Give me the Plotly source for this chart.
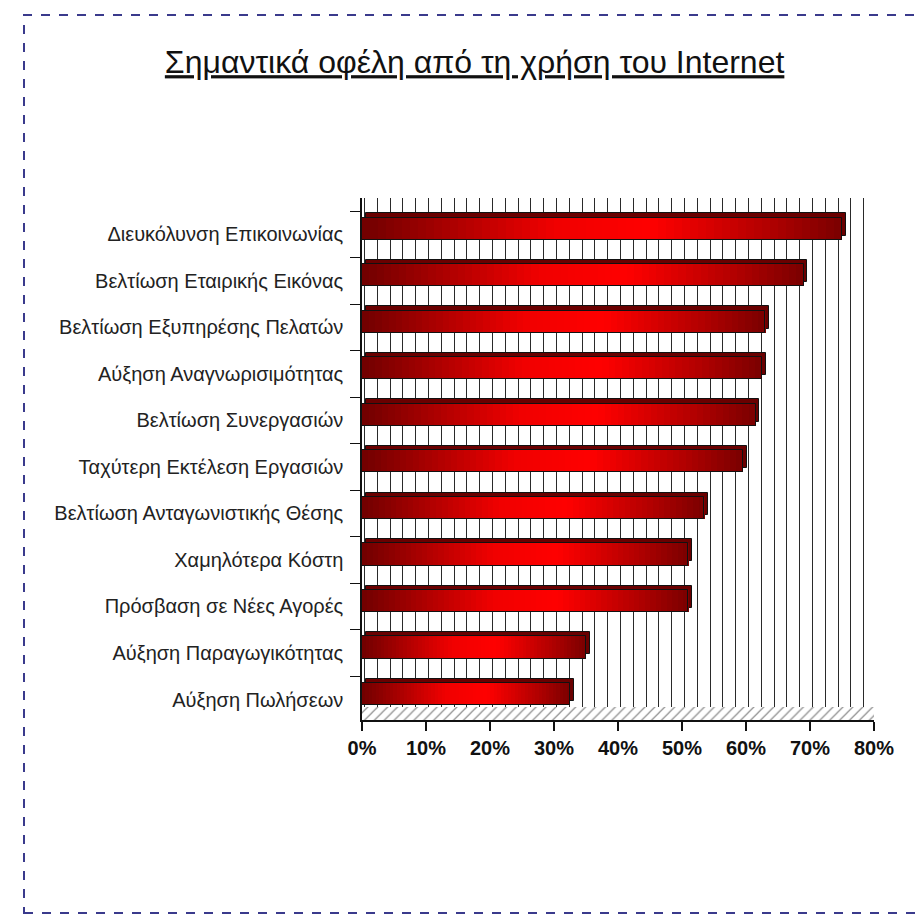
import plotly.graph_objects as go
from plotly.colors import sample_colorscale

# ---------------- data ----------------
categories = [
    "Διευκόλυνση Επικοινωνίας",
    "Βελτίωση Εταιρικής Εικόνας",
    "Βελτίωση Εξυπηρέσης Πελατών",
    "Αύξηση Αναγνωρισιμότητας",
    "Βελτίωση Συνεργασιών",
    "Ταχύτερη Εκτέλεση Εργασιών",
    "Βελτίωση Ανταγωνιστικής Θέσης",
    "Χαμηλότερα Κόστη",
    "Πρόσβαση σε Νέες Αγορές",
    "Αύξηση Παραγωγικότητας",
    "Αύξηση Πωλήσεων",
]
values = [75, 69, 63, 62.5, 61.5, 59.5, 53.5, 51, 51, 35, 32.5]
x_tickvals = [0, 10, 20, 30, 40, 50, 60, 70, 80]
x_ticktext = ["0%", "10%", "20%", "30%", "40%", "50%", "60%", "70%", "80%"]
title_text = "Σημαντικά οφέλη από τη χρήση του Internet"

# ---------------- layout helpers ----------------
n = len(categories)
ypos = [n - 1 - i for i in range(n)]          # first category at top
W = 918
L, R, T, B = 362, 44, 198, 198
Y_MIN, Y_MAX = -0.44, 10.78
depth_x = 0.6        # % shift for 3D depth
grid_shift = 0.4

bar_w = 0.48
front_off = 0.12 - bar_w / 2
back_off = front_off + 0.09

fig = go.Figure()

# back wall gridlines on a helper subplot (x/y), drawn beneath bar subplot
fig.add_trace(go.Scatter(x=[0], y=[0], xaxis="x", yaxis="y",
                         mode="markers", marker=dict(opacity=0),
                         hoverinfo="skip", showlegend=False))

BX, BY = "x2", "y2"

# floor hatch
fig.add_trace(go.Bar(
    y=[Y_MIN + 0.14], x=[x_tickvals[-1] + grid_shift], base=[0], orientation="h",
    width=[0.28], xaxis=BX, yaxis=BY,
    marker=dict(color="white", line=dict(width=0),
                pattern=dict(shape="/", fgcolor="#222", bgcolor="white",
                             size=7, solidity=0.18)),
    hoverinfo="skip", showlegend=False))

# back (top/end) face of bars
fig.add_trace(go.Bar(
    y=ypos, x=values, base=[depth_x] * n, orientation="h",
    width=[bar_w] * n, offset=back_off, xaxis=BX, yaxis=BY,
    marker=dict(color="#6a0000", line=dict(color="#111", width=1)),
    hoverinfo="skip", showlegend=False))

# solid underlay for front face
fig.add_trace(go.Bar(
    y=ypos, x=values, base=[0] * n, orientation="h",
    width=[bar_w] * n, offset=front_off, xaxis=BX, yaxis=BY,
    marker=dict(color="#d00000", line=dict(width=0)),
    hoverinfo="skip", showlegend=False))

# gradient segments on front face
N = 60
scale = [[0, "#700000"], [0.15, "#a00000"], [0.4, "#f00000"],
         [0.6, "#ff0000"], [0.85, "#b00000"], [1, "#7a0000"]]
cols = sample_colorscale(scale, [(k + 0.5) / N for k in range(N)])
for k in range(N):
    fig.add_trace(go.Bar(
        y=ypos, x=[v / N * 1.05 for v in values],
        base=[v * k / N for v in values], orientation="h",
        width=[bar_w] * n, offset=front_off, xaxis=BX, yaxis=BY,
        marker=dict(color=cols[k], line=dict(width=0)),
        hoverinfo="skip", showlegend=False))

# outline of front face
fig.add_trace(go.Bar(
    y=ypos, x=values, base=[0] * n, orientation="h",
    width=[bar_w] * n, offset=front_off, xaxis=BX, yaxis=BY,
    marker=dict(color="rgba(0,0,0,0)", line=dict(color="#111", width=1)),
    hovertemplate="%{x}%<extra></extra>", showlegend=False))

plot_h = 918 - T - B
floor_px = 13
fig.update_layout(
    width=W, height=918,
    margin=dict(l=L, r=R, t=T, b=B),
    paper_bgcolor="white",
    plot_bgcolor="rgba(0,0,0,0)",
    barmode="overlay",
    bargap=0,
    showlegend=False,
    title=dict(text="<u>" + title_text + "</u>", x=0.517, xanchor="center",
               y=1 - 62 / 918, yanchor="middle",
               font=dict(family="Liberation Sans Narrow, Arial Narrow, Liberation Sans, Arial, sans-serif",
                         size=32, color="#111")),
    # grid helper subplot
    xaxis=dict(range=[-grid_shift, 80 - grid_shift], anchor="y",
               showgrid=True, gridcolor="#2a2a2a", gridwidth=1.2, dtick=2, tick0=0,
               showticklabels=False, ticks="", zeroline=False, showline=False,
               domain=[0, 1], fixedrange=True),
    yaxis=dict(range=[0, 1], anchor="x", domain=[floor_px / plot_h, 1],
               showgrid=False, showticklabels=False, zeroline=False,
               showline=False, fixedrange=True),
    # bar subplot
    xaxis2=dict(range=[0, 80], tickvals=x_tickvals, ticktext=x_ticktext,
                anchor="y2", domain=[0, 1],
                showgrid=False, zeroline=False, showline=True,
                linecolor="#111", linewidth=1.5,
                ticks="outside", ticklen=9, tickcolor="#111", tickwidth=1.5,
                tickfont=dict(family="Liberation Sans Narrow, Arial Narrow, Liberation Sans, Arial, sans-serif",
                              size=20, color="#111", weight="bold"),
                fixedrange=True),
    yaxis2=dict(range=[Y_MIN, Y_MAX], tickvals=ypos, ticktext=categories,
                anchor="x2", domain=[0, 1],
                showgrid=False, zeroline=False, showline=True,
                linecolor="#111", linewidth=1.5, ticks="",
                minor=dict(tick0=0.5, dtick=1, ticks="outside", ticklen=10,
                           tickcolor="#111", tickwidth=1.2, showgrid=False),
                tickfont=dict(family="Liberation Sans, Arial, sans-serif",
                              size=20, color="#222"),
                ticklabelstandoff=13,
                fixedrange=True),
    shapes=[dict(type="rect", xref="paper", yref="paper",
                 x0=(24 - L) / (W - L - R), x1=(W + 20 - L) / (W - L - R),
                 y0=-(913 - T - plot_h) / plot_h, y1=1 + (T - 15) / plot_h,
                 line=dict(color="#3a3a8c", width=2, dash="dash"),
                 fillcolor="rgba(0,0,0,0)", layer="below")],
)

fig.write_html("out.html")
